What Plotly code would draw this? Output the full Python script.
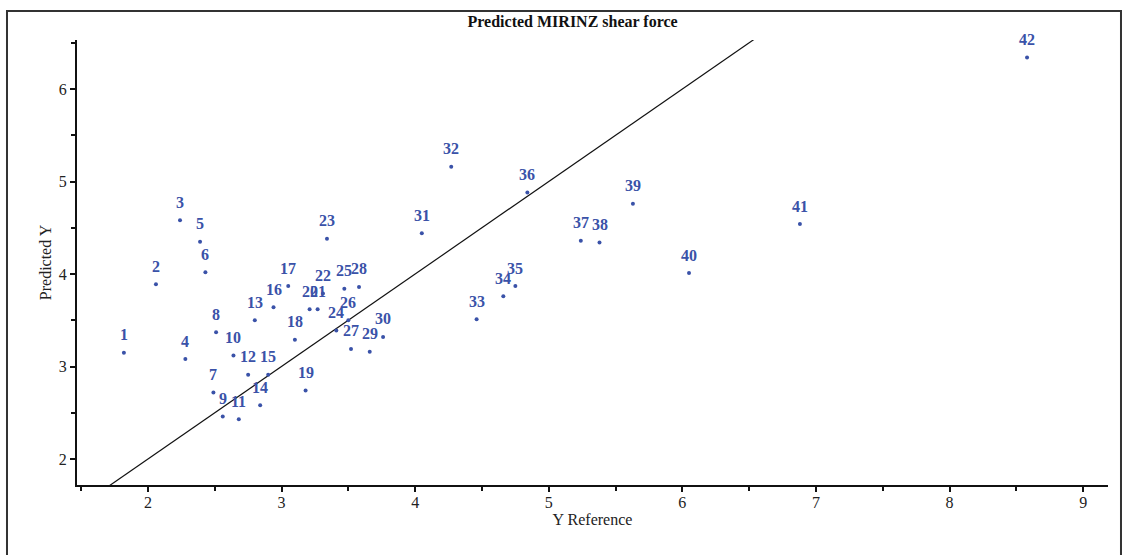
import plotly.graph_objects as go

labels = [str(i) for i in range(1, 43)]
y_reference = [1.82, 2.06, 2.24, 2.28, 2.39, 2.43, 2.49, 2.51, 2.56, 2.64,
               2.68, 2.75, 2.80, 2.84, 2.90, 2.94, 3.05, 3.10, 3.18, 3.21,
               3.27, 3.31, 3.34, 3.41, 3.47, 3.50, 3.52, 3.58, 3.66, 3.76,
               4.05, 4.27, 4.46, 4.66, 4.75, 4.84, 5.24, 5.38, 5.63, 6.05,
               6.88, 8.58]
predicted_y = [3.15, 3.89, 4.58, 3.08, 4.35, 4.02, 2.72, 3.37, 2.46, 3.12,
               2.43, 2.91, 3.50, 2.58, 2.91, 3.64, 3.87, 3.29, 2.74, 3.62,
               3.62, 3.79, 4.38, 3.39, 3.84, 3.50, 3.19, 3.86, 3.16, 3.32,
               4.44, 5.16, 3.51, 3.76, 3.87, 4.88, 4.36, 4.34, 4.76, 4.01,
               4.54, 6.34]
identity = [1.6, 6.7]

SERIF = "Liberation Serif, Times New Roman, serif"
BLUE = "#3a52a8"
INK = "#222222"

fig = go.Figure()
fig.add_trace(go.Scatter(x=identity, y=identity, mode="lines",
                         line=dict(color="#111111", width=1.2),
                         hoverinfo="skip", showlegend=False))
fig.add_trace(go.Scatter(x=y_reference, y=predicted_y, mode="markers",
                         marker=dict(color=BLUE, size=4),
                         showlegend=False, cliponaxis=False))

annotations = [dict(x=xv, y=yv, text=f"<b>{lab}</b>", showarrow=False,
                    xref="x", yref="y", yshift=18, xanchor="center",
                    yanchor="middle",
                    font=dict(family=SERIF, size=16, color=BLUE))
               for xv, yv, lab in zip(y_reference, predicted_y, labels)]

fig.update_layout(
    width=1125, height=555,
    margin=dict(l=77, r=17, t=40, b=70),
    paper_bgcolor="white", plot_bgcolor="white",
    title=dict(text="<b>Predicted MIRINZ shear force</b>", x=0.509, xanchor="center",
               y=0.962, yanchor="middle",
               font=dict(family=SERIF, size=16, color="#111111")),
    font=dict(family=SERIF, size=16, color=INK),
    xaxis=dict(range=[1.469, 9.186], dtick=1, tick0=0,
               showgrid=False, zeroline=False,
               showline=True, linecolor="#111111", linewidth=2,
               ticks="outside", ticklen=5, tickwidth=1.5, tickcolor="#111111",
               ticklabelstandoff=-3,
               minor=dict(dtick=0.5, tick0=0, ticks="outside", ticklen=4,
                          tickwidth=1.5, tickcolor="#111111", showgrid=False),
               title=dict(text="Y Reference", standoff=3,
                          font=dict(family=SERIF, size=16, color=INK)),
               tickfont=dict(family=SERIF, size=16, color=INK)),
    yaxis=dict(range=[1.719, 6.53], dtick=1, tick0=0,
               showgrid=False, zeroline=False,
               showline=True, linecolor="#111111", linewidth=2,
               ticks="outside", ticklen=5, tickwidth=1.5, tickcolor="#111111",
               minor=dict(dtick=0.5, tick0=0, ticks="outside", ticklen=4,
                          tickwidth=1.5, tickcolor="#111111", showgrid=False),
               title=dict(text="Predicted Y", standoff=3,
                          font=dict(family=SERIF, size=16, color=INK)),
               tickfont=dict(family=SERIF, size=16, color=INK)),
    annotations=annotations,
    shapes=[dict(type="rect", xref="paper", yref="paper",
                 x0=-0.0679, x1=1.0126, y0=-0.17, y1=1.0652,
                 line=dict(color="#333333", width=2), layer="below")],
)

fig.write_html("out.html",
               config={"displayModeBar": False},
               post_script="document.body.style.margin='0';"
                           "document.body.style.overflow='hidden';")
